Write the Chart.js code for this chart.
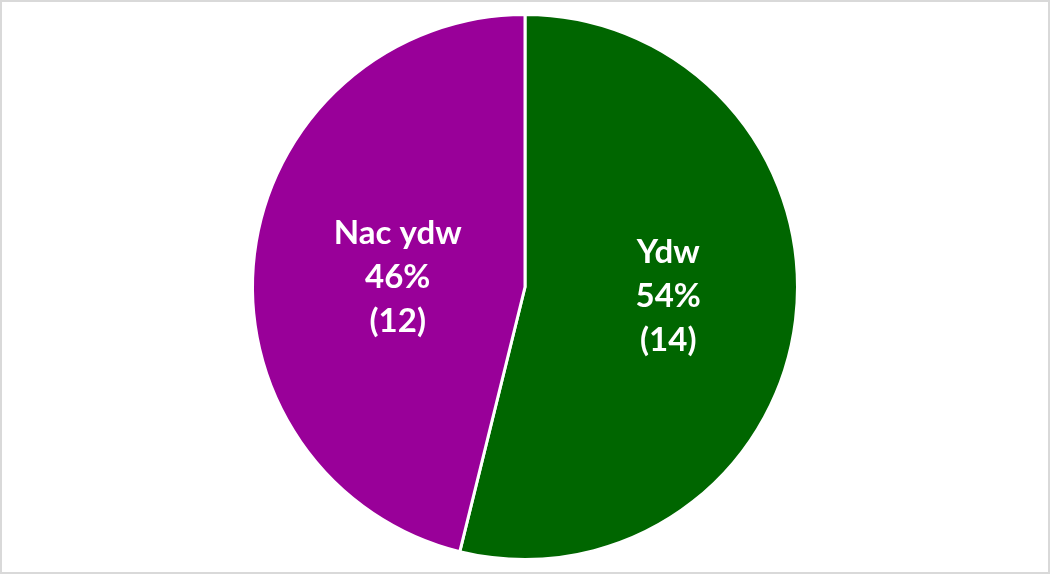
<!DOCTYPE html>
<html>
<head>
<meta charset="utf-8">
<script src="https://cdn.jsdelivr.net/npm/chart.js@4"></script>
<style>
  body { margin: 0; background: #fff; }
  #wrap { width: 1050px; height: 574px; box-sizing: border-box; border: 2px solid #d9d9d9; }
</style>
</head>
<body>
<div id="wrap"><canvas id="pieChart" width="1046" height="570"></canvas></div>
<script>
// Slice names and counts
const labels = ['Ydw', 'Nac ydw'];
const counts = [14, 12];
const colors = ['#006600', '#990099'];

// Draw "name / percent / (count)" inside each slice
const sliceLabels = {
    id: 'sliceLabels',
    afterDatasetsDraw(chart) {
        const ctx = chart.ctx;
        const meta = chart.getDatasetMeta(0);
        const total = counts.reduce((a, b) => a + b, 0);
        ctx.save();
        ctx.fillStyle = '#ffffff';
        ctx.font = 'bold 33px Lato, "Open Sans", sans-serif';
        ctx.textAlign = 'center';
        ctx.textBaseline = 'middle';
        meta.data.forEach((arc, i) => {
            const p = arc.getProps(['x', 'y', 'startAngle', 'endAngle', 'outerRadius'], true);
            const mid = (p.startAngle + p.endAngle) / 2;
            const r = p.outerRadius * 0.5;
            const cx = p.x + Math.cos(mid) * r + 8;
            const cy = p.y + Math.sin(mid) * r * 0.6;
            const lines = [labels[i], Math.round(counts[i] / total * 100) + '%', '(' + counts[i] + ')'];
            const lh = 44;
            lines.forEach((t, j) => {
                ctx.fillText(t, cx, cy + (j - 1) * lh);
            });
        });
        ctx.restore();
    }
};

new Chart(document.getElementById('pieChart').getContext('2d'), {
    type: 'pie',
    data: {
        labels: labels,
        datasets: [{
            data: counts,
            backgroundColor: colors,
            borderColor: '#ffffff',
            borderWidth: 3
        }]
    },
    options: {
        responsive: false,
        animation: false,
        layout: { padding: { top: 11, bottom: 11 } },
        plugins: {
            legend: { display: false },
            tooltip: { enabled: false }
        }
    },
    plugins: [sliceLabels]
});
</script>
</body>
</html>
